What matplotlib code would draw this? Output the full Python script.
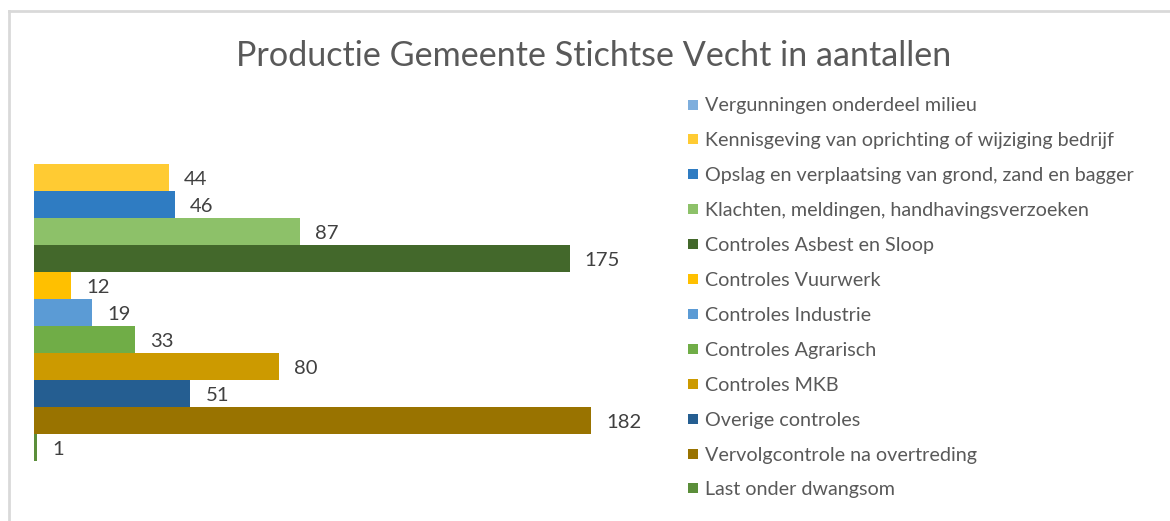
import numpy as np
import matplotlib
matplotlib.use("Agg")
import matplotlib.pyplot as plt
from matplotlib.lines import Line2D

plt.rcParams['font.family'] = ['Lato', 'DejaVu Sans']

series = [
    "Vergunningen onderdeel milieu",
    "Kennisgeving van oprichting of wijziging bedrijf",
    "Opslag en verplaatsing van grond, zand en bagger",
    "Klachten, meldingen, handhavingsverzoeken",
    "Controles Asbest en Sloop",
    "Controles Vuurwerk",
    "Controles Industrie",
    "Controles Agrarisch",
    "Controles MKB",
    "Overige controles",
    "Vervolgcontrole na overtreding",
    "Last onder dwangsom",
]
values = [np.nan, 44, 46, 87, 175, 12, 19, 33, 80, 51, 182, 1]
colors = ["#7eaedd", "#ffcb33", "#2f7cc2", "#8dc169", "#43682b", "#ffc000",
          "#5b9bd5", "#70ad47", "#cc9a00", "#255e91", "#997300", "#5b8e3a"]

W, H = 1170, 521
fig = plt.figure(figsize=(W / 100, H / 100), dpi=100)

# axes placement in pixels
x0, x1 = 34, 34 + 200 * 3.06
ytop, ybot = 137, 137 + 27 * 12
ax = fig.add_axes([x0 / W, 1 - ybot / H, (x1 - x0) / W, (ybot - ytop) / H])
ax.set_xlim(0, 200)
ax.set_ylim(len(series) - 0.5, -0.5)
ax.axis('off')

pos = np.arange(len(series))
for i, (v, c) in enumerate(zip(values, colors)):
    if np.isnan(v):
        continue
    ax.barh(pos[i], v, height=1.0, color=c, linewidth=0)
    ax.annotate(f"{v:g}", xy=(v, pos[i]), xytext=(11, -1.3), textcoords='offset points',
                ha='left', va='center', fontsize=14.6, color='#404040')

fig.text(594 / W, 1 - 56 / H, "Productie Gemeente Stichtse Vecht in aantallen",
         ha='center', va='center', fontsize=24.6, color='#595959')

# border lines (top and left) of chart area
fig.add_artist(Line2D([9 / W, 9 / W], [0, 1 - 11 / H], color='#d9d9d9', lw=2,
                      transform=fig.transFigure))
fig.add_artist(Line2D([9 / W, 1], [1 - 11 / H, 1 - 11 / H], color='#d9d9d9', lw=2,
                      transform=fig.transFigure))

# legend
for i, (s, c) in enumerate(zip(series, colors)):
    yc = 1 - (104.5 + 34.9 * i) / H
    fig.add_artist(plt.Rectangle((688 / W, yc - 5 / H), 10 / W, 10 / H,
                                 color=c, transform=fig.transFigure, lw=0))
    fig.text(705 / W, yc - 1.5 / H, s, ha='left', va='center', fontsize=14.2, color='#595959')

fig.savefig("out.png", dpi=100)
